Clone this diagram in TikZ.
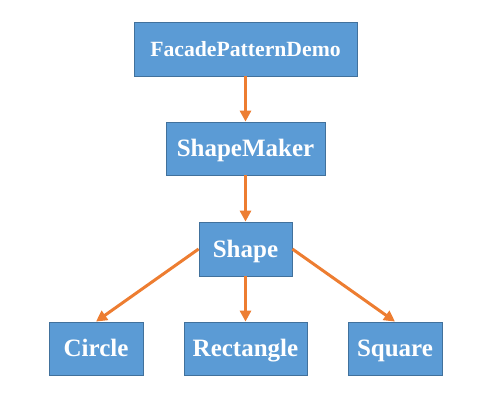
\documentclass[tikz,border=0pt]{standalone}
\usepackage{fontspec}
\setmainfont{Liberation Serif}
\usetikzlibrary{arrows.meta}
\definecolor{boxfill}{HTML}{5B9BD5}
\definecolor{boxline}{HTML}{41719C}
\definecolor{arr}{HTML}{ED7D31}
\tikzset{
  box/.style={draw=boxline, fill=boxfill, line width=0.8pt, text=white,
    font=\fontsize{25}{28}\selectfont\bfseries, inner sep=0pt, anchor=center,
    text height=16.5pt, text depth=0pt},
  conn/.style={draw=arr, line width=3pt, -{Triangle[length=11pt,width=11pt]}}
}
\begin{document}
\begin{tikzpicture}[x=1pt,y=-1pt]
\useasboundingbox (0,0) rectangle (496,400);
\node[box, minimum width=223pt, minimum height=54pt, font=\fontsize{21.7}{24}\selectfont\bfseries, text height=14.4pt] (f) at (245.5,49) {FacadePatternDemo};
\node[box, minimum width=159pt, minimum height=53pt] (m) at (245.5,148.5) {ShapeMaker};
\node[box, minimum width=93pt, minimum height=54pt] (s) at (245.5,249) {Shape};
\node[box, minimum width=94pt, minimum height=53pt] (c) at (96,348.5) {Circle};
\node[box, minimum width=123pt, minimum height=53pt] (r) at (245.5,348.5) {Rectangle};
\node[box, minimum width=94pt, minimum height=53pt] (q) at (395,348.5) {Square};
\draw[conn] (f) -- (m);
\draw[conn] (m) -- (s);
\draw[conn] (s.west) -- (c.north);
\draw[conn] (s) -- (r);
\draw[conn] (s.east) -- (q.north);
\end{tikzpicture}
\end{document}
